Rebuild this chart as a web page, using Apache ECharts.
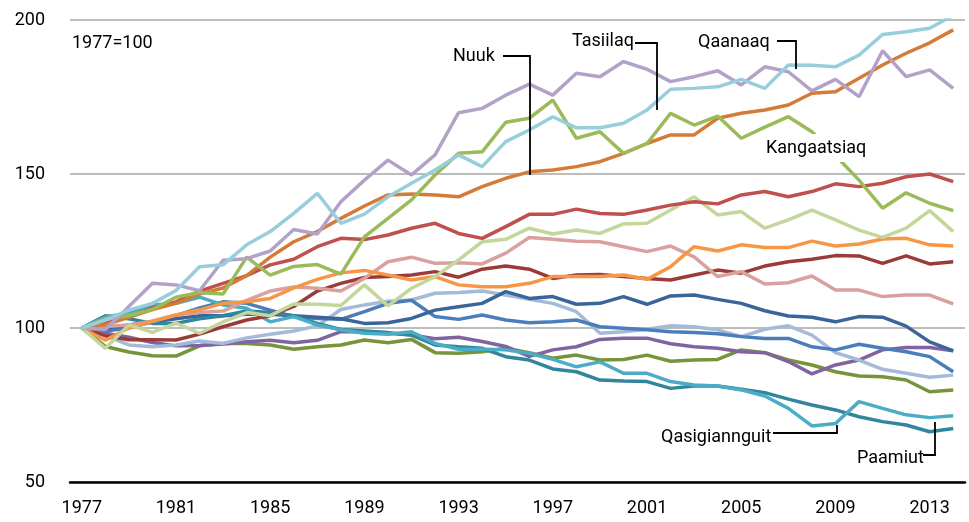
<!DOCTYPE html>
<html><head><meta charset="utf-8">
<script src="https://cdn.jsdelivr.net/npm/echarts@6/dist/echarts.min.js"></script>
<style>html,body{margin:0;padding:0;background:#fff}#c{width:969px;height:522px}</style>
</head><body><div id="c"></div>
<script>
const years = [];
for (let y = 1977; y <= 2014; y++) years.push(String(y));
const yTicks = [50, 100, 150, 200];

const nuuk = [100,101,103.5,106,108,111,113,117,123,128,131.3,135.6,139.6,143.2,143.5,143.2,142.6,145.9,148.6,150.7,151.3,152.4,154,156.7,159.9,162.7,162.7,168.1,169.7,170.8,172.4,176.2,176.7,181.1,185.4,189.2,192.6,196.8];
const tasiilaq = [100,102.6,105.8,108,112.2,119.9,120.5,127,131.3,137.2,143.7,134,137,142.6,147,151.3,156.2,152.4,160.5,164.3,168.6,165,165,166.5,170.8,177.5,177.8,178.3,180.7,177.8,185.4,185.3,184.8,188.6,195.3,196.2,197.3,201.5];
const qaanaaq = [100,99.5,107,114.5,114,112.1,122,122.5,125,132,130.5,141,148,154.5,149.7,156.2,169.9,171.3,175.6,179.2,175.6,182.7,181.6,186.5,184,180,181.6,183.5,178.9,184.8,183.2,177,180.7,175.1,190,181.6,183.8,177.8];
const kangaatsiaq = [100,103,104,106,110,111.5,111,123,117.2,120,120.6,117.5,129.6,135.6,141.6,149.7,156.7,157.2,166.8,168.1,174,161.6,163.7,156.7,159.9,169.7,165.9,168.8,161.6,165.2,168.6,163.7,156,148,138.9,143.9,140.5,138.1];
const townRed = [100,101.5,103.7,106.5,108.5,112,114.5,117,120.5,122.3,126.4,129.1,128.7,130.2,132.4,134,130.7,129.1,132.9,136.9,136.9,138.6,137.2,136.9,138.3,139.9,141,140.3,143.2,144.3,142.6,144.3,146.8,145.9,147,149.1,150,147.5];
const townLightGreen = [100,93.4,101,98.6,101.6,98.3,102,105,104,107.8,107.7,107.3,114,107.2,112.9,116.7,122.1,128,128.8,132.4,130.5,131.8,130.7,133.8,134,138.3,142.6,136.7,137.8,132.4,135.1,138.3,135.1,131.8,129.4,132.4,138.1,131.3];
const townPink = [100,100.5,101,102.2,104.2,105,105.5,109,112,113.3,112.9,112,116.1,121.5,123,121,121.2,120.8,124.3,129.4,128.8,128.2,128,126.4,124.8,126.6,123.1,116.7,118.3,114.3,114.7,116.9,112.3,112.3,110.2,110.7,110.7,107.8];
const townOrange = [100,96,100,102.2,104.2,105.9,108,108.5,109.6,113,115.8,117.9,118.7,117.2,115.6,116.7,114,113.4,113.4,114.5,116.7,116.7,116.7,117.2,115.8,119.9,126.4,125,127,126.1,126.1,128.2,126.6,127.3,128.9,129.1,127,126.6];
const townDarkRed = [100,97.5,96.2,96.2,96.1,98,100.4,102.6,104,107,112,114.5,116.4,116.7,117.2,118.3,116.5,119.1,120.1,119.1,116.1,117.2,117.4,116.7,116.1,115.6,117.2,118.8,117.8,120.1,121.5,122.3,123.5,123.4,121,123.4,120.8,121.5];
const townDarkBlue = [100,100,101,102,103,104,104,104.5,104.5,104,103.5,103,101.5,101.7,103.1,105.8,106.9,108,111.8,109.6,110.2,107.7,108,110.2,107.7,110.4,110.7,109.3,108,105.6,103.9,103.5,102,103.7,103.5,100.6,95.5,92.6];
const townBlue = [100,99,100,102,104,106.5,108.5,108,105.8,103.7,103.1,102.8,105.3,108,109,103.7,102.8,104.2,102.6,101.7,102,102.6,100.4,99.9,99.4,98.8,98.5,98.1,97.2,96.6,96.6,93.9,92.9,94.7,93.4,92.3,90.7,85.8];
const townPeriwinkle = [100,97.5,94.5,93.9,94.5,95.8,95,96.8,98,99,100.7,106,107.5,108.7,109.1,111.3,111.5,112,110.7,109.3,108,105.3,98.3,98.8,99.6,100.7,100.4,99.4,97.2,99.6,100.7,97.7,92,89.6,86.6,85.3,84,84.7];
const townPurple = [100,98.3,97,95.3,94.2,94.3,94.8,95.5,96,95.2,96,98.8,98.8,98.3,97.7,96.5,97,95.6,94,90.8,92.9,93.9,96.3,96.7,96.7,94.9,93.9,93.4,92.3,92,89.1,85.1,88,89.6,92.9,93.7,93.7,92.6];
const townOlive = [100,94,92.2,91,90.9,94.2,95,95,94.5,93.1,93.9,94.5,96.1,95.2,96.3,92,91.8,92.3,93.4,92,90.2,91.2,89.6,89.8,91.2,89.2,89.6,89.8,92.9,92,89.6,88,85.8,84.4,84.2,83.1,79.3,79.9];
const qasigiannguit = [100,103.5,105,107.5,108,110,107.5,106.4,102,103.7,101,99.4,98.3,98,98.8,95,93.1,93.1,92.9,91.8,89.8,87.4,89,85.3,85.3,82.6,81.5,81.2,79.9,77.9,73.9,68.2,69,76.1,73.9,71.8,70.9,71.5];
const paamiut = [100,104,103,101.5,101.5,103,104,105.5,105,104,101.5,99.5,99,98.5,97.7,94.5,93.9,93.4,90.7,89.6,86.7,85.8,83.1,82.8,82.6,80.4,81.2,81.2,80.1,79,76.9,75,73.4,71.2,69.6,68.5,66.3,67.4];

const seriesDefs = [
  ['Olive', townOlive, '#77933c'],
  ['Purple', townPurple, '#8064a2'],
  ['Periwinkle', townPeriwinkle, '#a3bad9'],
  ['Blue', townBlue, '#4a7ebb'],
  ['DarkBlue', townDarkBlue, '#3a6598'],
  ['Paamiut', paamiut, '#31859c'],
  ['Qasigiannguit', qasigiannguit, '#4bacc6'],
  ['DarkRed', townDarkRed, '#9b3b38'],
  ['Pink', townPink, '#d9a09e'],
  ['Orange', townOrange, '#f79646'],
  ['LightGreen', townLightGreen, '#c3d69b'],
  ['Red', townRed, '#c0504d'],
  ['Nuuk', nuuk, '#d47b37'],
  ['Kangaatsiaq', kangaatsiaq, '#9bbb59'],
  ['Qaanaaq', qaanaaq, '#b3a2c7'],
  ['Tasiilaq', tasiilaq, '#98cedb']
];

const FONT = 'Roboto, sans-serif';
const FS = 18;
const chart = echarts.init(document.getElementById('c'), null, {renderer: 'canvas'});

function txt(text, x, y, extra) {
  return {type: 'text', z: 100, style: Object.assign({
    text: text, x: x, y: y, fill: '#000', fontSize: FS, fontFamily: FONT,
    verticalAlign: 'middle', align: 'left'}, extra || {})};
}
function pl(points) {
  return {type: 'polyline', z: 100, shape: {points: points},
    style: {stroke: '#000', lineWidth: 1.8, fill: null}};
}

chart.setOption({
  animation: false,
  grid: {left: 70, right: 4, top: 20, bottom: 40, containLabel: false},
  xAxis: {
    type: 'category', data: years, boundaryGap: true,
    axisLine: {lineStyle: {color: '#000', width: 2.5}},
    axisTick: {show: false},
    axisLabel: {interval: 3, color: '#000', fontSize: FS, fontFamily: FONT, margin: 17}
  },
  yAxis: {
    type: 'value', min: yTicks[0], max: yTicks[yTicks.length - 1], interval: 50,
    axisLine: {show: false}, axisTick: {show: false},
    splitLine: {lineStyle: {color: '#a6a6a6', width: 1.5}},
    axisLabel: {color: '#000', fontSize: FS, fontFamily: FONT, margin: 25}
  },
  series: seriesDefs.map(d => ({
    name: d[0], type: 'line', data: d[1], symbol: 'none', smooth: false,
    lineStyle: {color: d[2], width: 3.5}, itemStyle: {color: d[2]}, clip: true
  })),
  graphic: [
    txt('1977=100', 72, 43),
    txt('Nuuk', 453, 56),
    pl([[503, 56], [530, 56], [530, 175]]),
    txt('Tasiilaq', 572, 41),
    pl([[635, 43], [657, 43], [657, 110]]),
    txt('Qaanaaq', 698, 42),
    pl([[777, 41], [796, 41], [796, 69]]),
    txt('Kangaatsiaq', 764, 148, {backgroundColor: '#fff', padding: [5, 2, 5, 2]}),
    txt('Qasigiannguit', 661, 437),
    pl([[773, 433], [837, 433], [837, 425]]),
    txt('Paamiut', 857, 458),
    pl([[923, 455], [935, 455], [935, 422]])
  ]
});
</script></body></html>
